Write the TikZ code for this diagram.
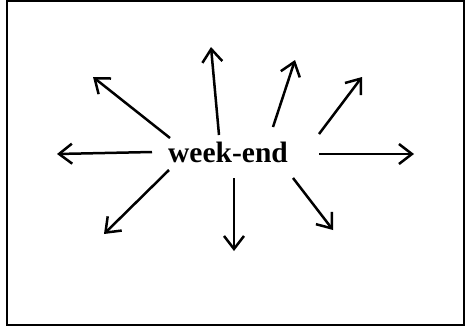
\documentclass[tikz,border=0pt]{standalone}
\usepackage{fontspec}
\setmainfont{Liberation Serif}
\usetikzlibrary{arrows.meta}
\begin{document}
\begin{tikzpicture}[x=1pt,y=-1pt,
  ray/.style={line width=2.5pt,-{Straight Barb[length=13pt,width=20pt,line width=2.5pt]}},
  frame/.style={line width=2.8pt}]
\useasboundingbox (0,0) rectangle (465,330);
\draw[frame] (7,1) rectangle (464,325);
\node[font=\bfseries\fontsize{29.5}{31}\selectfont, inner sep=0pt] (w) at (228,152) {week-end};
\coordinate (s1) at (152,152); \coordinate (e1) at (57,154);
\coordinate (s2) at (170,138); \coordinate (e2) at (93,77);
\coordinate (s3) at (219,135); \coordinate (e3) at (211,47);
\coordinate (s4) at (273,127); \coordinate (e4) at (295,60);
\coordinate (s5) at (319,134); \coordinate (e5) at (362,77);
\coordinate (s6) at (319,154); \coordinate (e6) at (414,154);
\coordinate (s7) at (293,178); \coordinate (e7) at (333,230);
\coordinate (s8) at (234,178); \coordinate (e8) at (234,251);
\coordinate (s9) at (169,170); \coordinate (e9) at (104,234);
\foreach \i in {1,...,9} \draw[ray] (s\i) -- (e\i);
\end{tikzpicture}
\end{document}
